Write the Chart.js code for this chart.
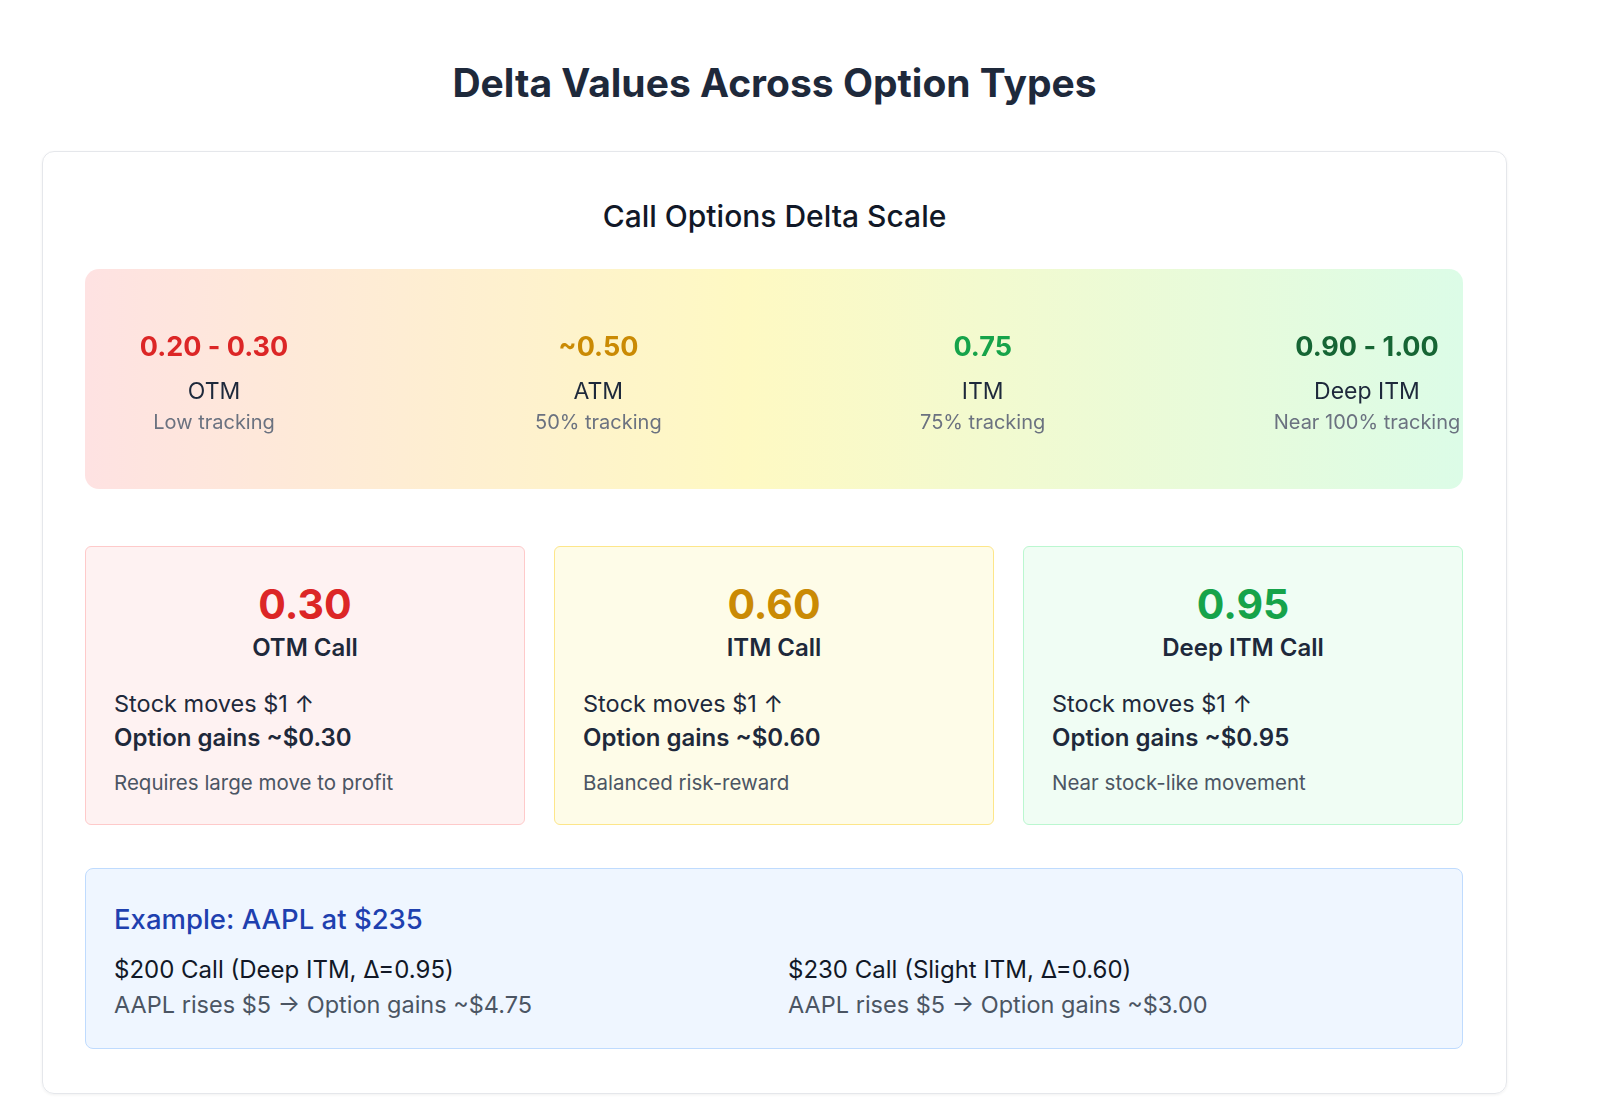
<!DOCTYPE html>
<html>
<head>
<meta charset="utf-8">
<script src="https://cdn.jsdelivr.net/npm/chart.js@4.4.1/dist/chart.umd.min.js"></script>
<style>
  body { margin: 0; background: #fff; font-family: Inter, "Noto Sans", sans-serif; color: #1e293b; }
  .t { position: absolute; white-space: nowrap; }
  .panel { position: absolute; left: 42px; top: 151px; width: 1463px; height: 941px;
           border: 1px solid #e5e7eb; border-radius: 12px; box-shadow: 0 1px 3px rgba(0,0,0,0.06); }
  #bandBox { position: absolute; left: 85px; top: 269px; width: 1378px; height: 220px; }
  .card { position: absolute; top: 546px; width: 438px; height: 277px; border-radius: 6px; }
  #example { position: absolute; left: 85px; top: 868px; width: 1376px; height: 179px;
             background: #eff6ff; border: 1px solid #bfdbfe; border-radius: 8px; }
</style>
</head>
<body>
<div class="panel"></div>
<div id="bandBox"><canvas id="band"></canvas></div>
<div id="example"></div>
<div id="layer"></div>
<script>
// delta scale
const scaleValues = ["0.20 - 0.30", "~0.50", "0.75", "0.90 - 1.00"];
const scaleNames = ["OTM", "ATM", "ITM", "Deep ITM"];
const scaleNotes = ["Low tracking", "50% tracking", "75% tracking", "Near 100% tracking"];
const scaleColors = ["#dc2626", "#ca8a04", "#16a34a", "#166534"];

// example cards
const cardDeltas = [0.30, 0.60, 0.95];
const cardNames = ["OTM Call", "ITM Call", "Deep ITM Call"];
const cardNotes = ["Requires large move to profit", "Balanced risk-reward", "Near stock-like movement"];
const cardColors = ["#dc2626", "#ca8a04", "#16a34a"];
const cardBg = ["#fef2f2", "#fefce8", "#f0fdf4"];
const cardBorder = ["#fecaca", "#fde68a", "#bbf7d0"];

// AAPL example
const exampleTitle = "Example: AAPL at $235";
const exampleCalls = ["$200 Call (Deep ITM, \u0394=0.95)", "$230 Call (Slight ITM, \u0394=0.60)"];
const exampleGains = ["AAPL rises $5 \u2192 Option gains ~$4.75", "AAPL rises $5 \u2192 Option gains ~$3.00"];

// text helper: left/width box, vertical centre cy
function txt(text, left, width, cy, size, weight, color, align) {
  const lh = Math.round(size * 1.4);
  const w = width ? `width:${width}px;` : '';
  return `<div class="t" style="left:${left}px;${w}top:${cy - lh / 2}px;height:${lh}px;line-height:${lh}px;` +
    `font-size:${size}px;font-weight:${weight};color:${color};text-align:${align || 'left'}">${text}</div>`;
}

function roundRect(ctx, x, y, w, h, r) {
  ctx.beginPath();
  ctx.moveTo(x + r, y);
  ctx.arcTo(x + w, y, x + w, y + h, r);
  ctx.arcTo(x + w, y + h, x, y + h, r);
  ctx.arcTo(x, y + h, x, y, r);
  ctx.arcTo(x, y, x + w, y, r);
  ctx.closePath();
}

const bandPlugin = {
  id: 'bandPlugin',
  beforeDraw(chart) {
    const ctx = chart.ctx;
    const g = ctx.createLinearGradient(0, 0, chart.width, 0);
    g.addColorStop(0, '#fee2e2');
    g.addColorStop(0.48, '#fef9c3');
    g.addColorStop(1, '#dcfce7');
    ctx.save();
    roundRect(ctx, 0, 0, chart.width, chart.height, 14);
    ctx.fillStyle = g;
    ctx.fill();
    ctx.restore();
  },
  afterDatasetsDraw(chart) {
    const ctx = chart.ctx;
    const xs = chart.scales.x;
    ctx.save();
    ctx.textAlign = 'center';
    ctx.textBaseline = 'middle';
    scaleValues.forEach((v, i) => {
      const x = xs.getPixelForValue(i);
      ctx.fillStyle = scaleColors[i];
      ctx.font = '700 27px Inter';
      ctx.fillText(v, x, 79);
      ctx.fillStyle = '#1e293b';
      ctx.font = '400 23px Inter';
      ctx.fillText(scaleNames[i], x, 123);
      ctx.fillStyle = '#6b7280';
      ctx.font = '400 20px Inter';
      ctx.fillText(scaleNotes[i], x, 154);
    });
    ctx.restore();
  }
};

new Chart(document.getElementById('band'), {
  type: 'line',
  data: {
    labels: scaleNames,
    datasets: [{ data: scaleNames.map(() => 0), pointRadius: 0, borderWidth: 0, showLine: false }]
  },
  options: {
    responsive: true,
    maintainAspectRatio: false,
    animation: false,
    layout: { padding: { left: 129, right: 96, top: 0, bottom: 0 } },
    plugins: { legend: { display: false }, tooltip: { enabled: false } },
    scales: {
      x: { display: false, offset: false },
      y: { display: false }
    }
  },
  plugins: [bandPlugin]
});

let html = '';
html += txt('Delta Values Across Option Types', 42, 1465, 82, 39, 700, '#1e293b', 'center');
html += txt('Call Options Delta Scale', 42, 1465, 216, 30, 500, '#111827', 'center');

// cards
cardDeltas.forEach((d, i) => {
  const left = 85 + i * 469;
  html += `<div class="card" style="left:${left}px;background:${cardBg[i]};border:1px solid ${cardBorder[i]}"></div>`;
  html += txt(d.toFixed(2), left, 440, 604, 41, 700, cardColors[i], 'center');
  html += txt(cardNames[i], left, 440, 648, 24, 600, '#1e293b', 'center');
  html += txt('Stock moves $1 \u2191', left + 29, 0, 703, 23.5, 400, '#1e293b');
  html += txt('Option gains ~$' + d.toFixed(2), left + 29, 0, 738, 24, 600, '#1e293b');
  html += txt(cardNotes[i], left + 29, 0, 782, 20.5, 400, '#4b5563');
});

// example panel
html += txt(exampleTitle, 114, 0, 919, 27.5, 500, '#1e40af');
exampleCalls.forEach((c, i) => {
  const left = 114 + i * 674;
  html += txt(c, left, 0, 970, 24, 400, '#111827');
  html += txt(exampleGains[i], left, 0, 1004, 23.5, 400, '#4b5563');
});
document.getElementById('layer').innerHTML = html;
</script>
</body>
</html>
